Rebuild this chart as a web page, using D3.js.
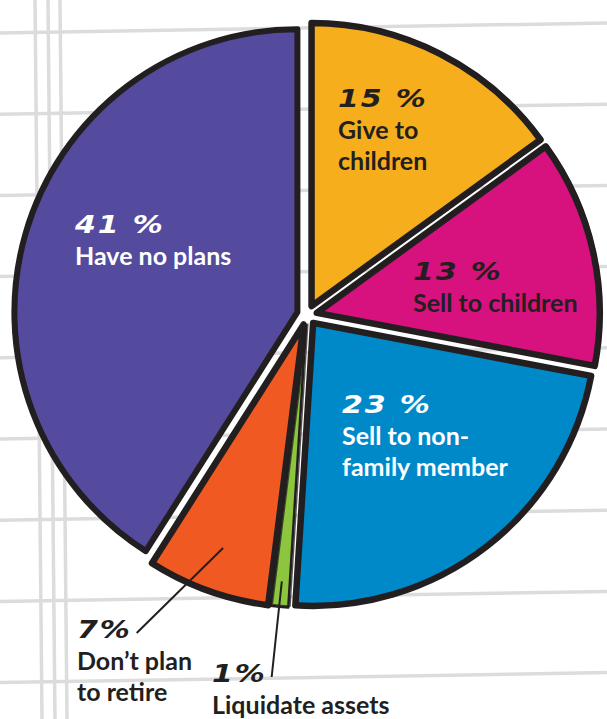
<!DOCTYPE html>
<html>
<head>
<meta charset="utf-8">
<script src="https://cdn.jsdelivr.net/npm/d3@7"></script>
<style>
  html, body { margin: 0; padding: 0; background: #fff; }
  svg { display: block; }
</style>
</head>
<body>
<svg id="chart" width="607" height="719"></svg>
<script>
// ---- data (clockwise from 12 o'clock) ----
const categories = ['Give to children', 'Sell to children', 'Sell to non-family member',
  'Liquidate assets', "Don't plan to retire", 'Have no plans'];
const shares = [15, 13, 23, 1, 7, 41];
const pctLabels = ['15 %', '13 %', '23 %', '1%', '7%', '41 %'];
const labelLines = [['Give to', 'children'], ['Sell to children'], ['Sell to non-', 'family member'],
  ['Liquidate assets'], ['Don\u2019t plan', 'to retire'], ['Have no plans']];

// ---- styles / layout ----
const sliceColors = ['#f6ae1c', '#d7127f', '#0089c9', '#8cc63e', '#f05a22', '#544b9e'];
const textColors = ['#231f20', '#231f20', '#ffffff', '#231f20', '#231f20', '#ffffff'];
const outlineWidth = [6.5, 6.5, 6.5, 2.5, 6.5, 6];
const labelPos = [[338, 107], [413, 280], [342, 413], [212, 682], [77, 638], [75, 233]];
const leaderRadius = [null, null, null, 0.91, 0.84, null];
const ink = '#231f20';

const W = 607, H = 719;
const cx = 307, cy = 315, R = 283, explode = 10;
const pctStretch = 1.25;

const svg = d3.select('#chart');

// ================================
// Grid paper background
// ================================
const grid = svg.append('g')
  .attr('stroke', '#dcdcdc')
  .attr('stroke-width', 3.5);

d3.range(9).forEach(i => {
  const y = 33 + i * 81.2;
  grid.append('line')
    .attr('x1', 0).attr('y1', y)
    .attr('x2', W).attr('y2', y - 10);
});

[35, 48, 60].forEach(x => {
  grid.append('line')
    .attr('x1', x).attr('y1', 0)
    .attr('x2', x + 7).attr('y2', H);
});

// ================================
// Exploded pie
// ================================
const pie = d3.pie().sort(null).value(d => d);
const arcs = pie(shares);
const arc = d3.arc().innerRadius(0).outerRadius(R);

const offset = d => {
  const mid = (d.startAngle + d.endAngle) / 2;
  return [Math.sin(mid) * explode, -Math.cos(mid) * explode];
};

const slices = svg.append('g')
  .attr('transform', `translate(${cx},${cy})`);

arcs.forEach((d, i) => {
  const [dx, dy] = offset(d);
  const g = slices.append('g').attr('transform', `translate(${dx},${dy})`);

  g.append('path')
    .attr('d', arc(d))
    .attr('fill', sliceColors[i]);

  // heavy marker outline
  g.append('path')
    .attr('d', arc(d))
    .attr('fill', 'none')
    .attr('stroke', ink)
    .attr('stroke-width', outlineWidth[i])
    .attr('stroke-linejoin', 'round');

  // second, slightly shifted pass for a hand-drawn feel
  g.append('path')
    .attr('d', arc(d))
    .attr('fill', 'none')
    .attr('stroke', ink)
    .attr('stroke-width', 1.4)
    .attr('transform', 'translate(1.8,-1.4)')
    .attr('opacity', 0.75);
});

// ================================
// Labels
// ================================
arcs.forEach((d, i) => {
  const [x, y] = labelPos[i];

  const pct = svg.append('text')
    .attr('transform', `translate(${x},${y}) scale(${pctStretch},1)`)
    .attr('fill', textColors[i])
    .attr('font-family', 'DejaVu Sans, sans-serif')
    .attr('font-style', 'italic')
    .attr('font-weight', 'bold')
    .attr('font-size', '24px')
    .attr('letter-spacing', '1.5px')
    .text(pctLabels[i]);

  labelLines[i].forEach((line, j) => {
    svg.append('text')
      .attr('x', x)
      .attr('y', y + 32 + j * 31)
      .attr('fill', textColors[i])
      .attr('font-family', 'Lato, sans-serif')
      .attr('font-weight', 'bold')
      .attr('font-size', '25px')
      .text(line);
  });

  // leader line for the small outside labels
  if (leaderRadius[i]) {
    const [dx, dy] = offset(d);
    const rr = R * leaderRadius[i];
    const [px, py] = d3.arc().innerRadius(rr).outerRadius(rr).centroid(d);
    const w = pct.node().getComputedTextLength() * pctStretch;
    svg.append('line')
      .attr('x1', cx + dx + px)
      .attr('y1', cy + dy + py)
      .attr('x2', x + w + 5)
      .attr('y2', y - 5)
      .attr('stroke', ink)
      .attr('stroke-width', 2);
  }
});
</script>
</body>
</html>
